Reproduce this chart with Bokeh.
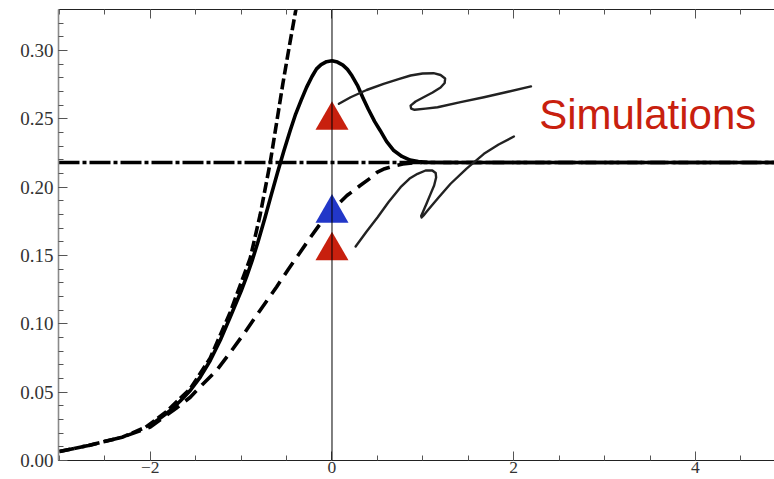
from bokeh.plotting import figure
from bokeh.models import (Range1d, LinearAxis, SingleIntervalTicker, NumeralTickFormatter,
                          CustomJSTickFormatter, Span, Label)
from bokeh.embed import file_html
from bokeh.resources import INLINE

# ---------------- data ----------------
solid_x = [-2.0, -1.89, -1.78, -1.67, -1.56, -1.45, -1.34, -1.23, -1.12, -1.0, -0.94, -0.88,
           -0.81, -0.74, -0.67, -0.60, -0.53, -0.46, -0.40, -0.34, -0.28, -0.22, -0.17, -0.12,
           -0.06, 0.0, 0.06, 0.12, 0.17, 0.22, 0.28, 0.34, 0.40, 0.47, 0.53, 0.60, 0.68, 0.77,
           0.86, 0.95, 1.05, 1.2, 1.5, 4.9]
solid_y = [0.026, 0.031, 0.0366, 0.0435, 0.0512, 0.061, 0.0732, 0.088, 0.105, 0.124, 0.1345,
           0.146, 0.161, 0.177, 0.194, 0.2105, 0.2265, 0.2415, 0.2535, 0.2635, 0.273, 0.281,
           0.2866, 0.2897, 0.2918, 0.2925, 0.2915, 0.2893, 0.2862, 0.2815, 0.2745, 0.2655, 0.257,
           0.248, 0.2415, 0.2335, 0.2268, 0.2225, 0.2198, 0.2188, 0.2182, 0.218, 0.218, 0.218]

steep_x = [-3.0, -2.68, -2.31, -2.05, -1.83, -1.56, -1.34, -1.12, -0.90, -0.79, -0.68, -0.61,
           -0.54, -0.47, -0.40, -0.36]
steep_y = [0.0066, 0.011, 0.017, 0.0244, 0.0353, 0.0525, 0.0750, 0.1085, 0.148, 0.180, 0.218,
           0.247, 0.276, 0.303, 0.329, 0.345]

ldash_x = [-3.0, -2.68, -2.31, -2.0, -1.85, -1.70, -1.56, -1.42, -1.27, -1.12, -0.97, -0.79,
           -0.61, -0.48, -0.35, -0.24, -0.13, 0.0, 0.165, 0.31, 0.42, 0.50, 0.58, 0.68, 0.78,
           0.90, 1.0, 4.9]
ldash_y = [0.0066, 0.011, 0.017, 0.0244, 0.0317, 0.039, 0.0463, 0.056, 0.0659, 0.079, 0.0927,
           0.110, 0.127, 0.140, 0.1524, 0.163, 0.1732, 0.183, 0.1939, 0.2012, 0.2065, 0.211,
           0.2135, 0.2155, 0.217, 0.2178, 0.218, 0.218]

level_x = [-3.01, 4.9]
level_y = [0.218, 0.218]

sim_red_x = [0.0, 0.0]
sim_red_y = [0.249, 0.1535]
sim_blue_x = [0.0]
sim_blue_y = [0.181]

# hand-drawn connector squiggles (annotation)
squig1_x = [0.076, 0.205, 0.381, 0.568, 0.733, 0.865, 0.997, 1.118, 1.195, 1.245, 1.240, 1.195,
            1.107, 1.008, 0.920, 0.865, 0.871, 0.909, 1.030, 1.162, 1.415, 1.672, 1.937, 2.190]
squig1_y = [0.2610, 0.2658, 0.2711, 0.2756, 0.2791, 0.2817, 0.2832, 0.2834, 0.2821, 0.2795,
            0.2762, 0.2729, 0.2693, 0.2658, 0.2627, 0.2597, 0.2575, 0.2566, 0.2575, 0.2585,
            0.2622, 0.2658, 0.2698, 0.2737]
squig2_x = [0.260, 0.381, 0.502, 0.623, 0.755, 0.854, 0.942, 1.030, 1.104, 1.141, 1.146, 1.124,
            1.085, 1.041, 1.003, 0.981, 0.986, 1.008, 1.052, 1.173, 1.305, 1.481, 1.672, 1.834,
            2.002]
squig2_y = [0.1566, 0.1676, 0.1780, 0.1891, 0.2000, 0.2063, 0.2098, 0.2122, 0.2122, 0.2104,
            0.2071, 0.2012, 0.1951, 0.1880, 0.1822, 0.1789, 0.1778, 0.1793, 0.1829, 0.1924,
            0.2025, 0.2136, 0.2244, 0.2312, 0.2371]

label_text = "Simulations"
label_x = 2.28
label_y = 0.2535

# ---------------- figure ----------------
p = figure(width=774, height=479, output_backend="svg", toolbar_location=None,
           x_range=Range1d(-3.01, 4.87), y_range=Range1d(0, 0.33),
           x_axis_location=None, y_axis_location=None,
           min_border_left=58, min_border_right=0, min_border_top=9, min_border_bottom=19)
p.grid.visible = False
p.outline_line_color = None
p.background_fill_color = "white"
p.border_fill_color = "white"

xt = SingleIntervalTicker(interval=2, num_minor_ticks=4)
yt = SingleIntervalTicker(interval=0.05, num_minor_ticks=5)

tick_common = dict(major_tick_in=9, major_tick_out=0, minor_tick_in=5, minor_tick_out=0,
                   major_tick_line_color="#555555", minor_tick_line_color="#555555",
                   major_tick_line_width=1, minor_tick_line_width=1,
                   major_label_text_font="Liberation Serif", major_label_text_color="#333333")

xb = LinearAxis(ticker=xt,
                formatter=CustomJSTickFormatter(code="return tick < 0 ? '\\u2212' + Math.abs(tick) : String(tick);"),
                axis_line_color="#222222", axis_line_width=1.2, major_label_standoff=1,
                major_label_text_font_size="17.5px", **tick_common)
p.add_layout(xb, "below")

yl = LinearAxis(ticker=yt, formatter=NumeralTickFormatter(format="0.00"),
                axis_line_color="#8a8a8a", axis_line_width=1.6, major_label_standoff=5,
                major_label_text_font_size="19px", **tick_common)
p.add_layout(yl, "left")

xa = LinearAxis(ticker=xt, formatter=CustomJSTickFormatter(code="return '';"),
                axis_line_color="#222222", axis_line_width=1.2, major_label_standoff=0,
                major_label_text_font_size="1px", **tick_common)
p.add_layout(xa, "above")

# curves
p.line(level_x, level_y, line_color="black", line_width=3.6, line_dash="21 3 4 3")
p.line(ldash_x, ldash_y, line_color="black", line_width=3.6, line_dash="15 8")
p.line(steep_x, steep_y, line_color="black", line_width=3.6, line_dash="11 4")
p.line(solid_x, solid_y, line_color="black", line_width=3.6, line_join="round")

# squiggle connectors
p.line(squig1_x, squig1_y, line_color="#222222", line_width=2.4, line_join="round", line_cap="round")
p.line(squig2_x, squig2_y, line_color="#222222", line_width=2.4, line_join="round", line_cap="round")

# simulation markers
p.scatter(sim_red_x, sim_red_y, marker="triangle", size=33, fill_color="#C8200E", line_color=None)
p.scatter(sim_blue_x, sim_blue_y, marker="triangle", size=33, fill_color="#2237C8", line_color=None)

# vertical axis at x = 0
p.add_layout(Span(location=0, dimension="height", line_color="black", line_width=1))

p.add_layout(Label(x=label_x, y=label_y, text=label_text, text_color="#C8200E",
                   text_font="Liberation Sans", text_font_size="42px", text_baseline="alphabetic"))

open("out.html", "w").write(file_html(p, INLINE))
